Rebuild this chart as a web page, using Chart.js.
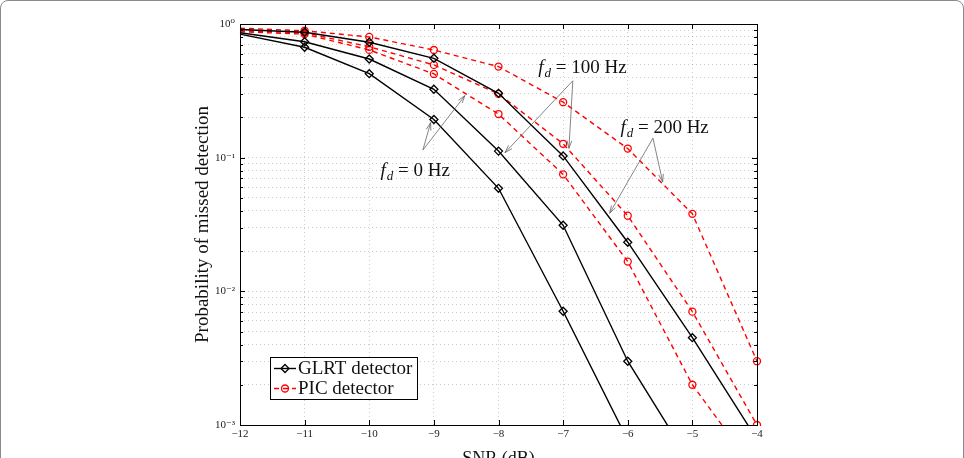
<!DOCTYPE html>
<html>
<head>
<meta charset="utf-8">
<script src="https://cdn.jsdelivr.net/npm/chart.js@4.4.1/dist/chart.umd.min.js"></script>
<style>
  html, body { margin: 0; padding: 0; background: #fff; overflow: hidden; }
  #wrap { position: relative; width: 964px; height: 458px; }
  #frame { position: absolute; left: 0; top: 0; width: 962px; height: 480px; border: 1px solid #8a8a8a; border-radius: 8px; pointer-events: none; }
  canvas { position: absolute; left: 0; top: 0; }
</style>
</head>
<body>
<div id="wrap">
  <canvas id="chart" width="964" height="470"></canvas>
  <div id="frame"></div>
</div>
<script>
// SNR values (dB)
const snr = [-12, -11, -10, -9, -8, -7, -6, -5, -4];

// probability of missed detection (null = off the plot)
const glrt0   = [0.84, 0.67, 0.425, 0.193, 0.059, 0.0071, 0.00077, null, null];
const glrt100 = [0.86, 0.737, 0.547, 0.325, 0.112, 0.0312, 0.0030, 0.0005, null];
const glrt200 = [0.91, 0.867, 0.73, 0.554, 0.303, 0.103, 0.0233, 0.0045, 0.00078];
const pic0    = [0.876, 0.84, 0.64, 0.423, 0.212, 0.075, 0.0167, 0.0020, 0.00044];
const pic100  = [0.89, 0.86, 0.676, 0.494, 0.30, 0.127, 0.0368, 0.00705, 0.001];
const pic200  = [0.93, 0.89, 0.80, 0.639, 0.48, 0.26, 0.117, 0.038, 0.003];

const xTicks = [-12, -11, -10, -9, -8, -7, -6, -5, -4];
const decades = [-3, -2, -1];

// labels and arrows: text position and arrow tips in data coordinates
const notes = [
  { value: '0',   at: [-9.29, 0.081], tail: [-9.17, 0.114], tips: [[-9.05, 0.183], [-8.52, 0.291]] },
  { value: '100', at: [-6.70, 0.479], tail: [-6.85, 0.376], tips: [[-7.90, 0.109], [-6.91, 0.1175]] },
  { value: '200', at: [-5.43, 0.169], tail: [-5.61, 0.140], tips: [[-5.46, 0.066], [-6.28, 0.0384]] }
];

const serif = '"Liberation Serif", "DejaVu Serif", serif';

const yTickValues = [];
decades.forEach(e => { for (let k = 1; k <= 9; k++) yTickValues.push(k * Math.pow(10, e)); });
yTickValues.push(1);

const sup = { '0': '\u2070', '1': '\u00b9', '2': '\u00b2', '3': '\u00b3', '-': '\u207b' };
function powLabel(v) {
  const e = Math.log10(v);
  if (Math.abs(e - Math.round(e)) > 1e-6) return '';
  return '10' + String(Math.round(e)).split('').map(c => sup[c]).join('');
}

function pts(arr) {
  return snr.map((x, i) => ({ x: x, y: arr[i] })).filter(p => p.y !== null);
}

// no marker on the first point (the curves enter from the left edge)
const markerSize = r => c => (c.dataIndex === 0 ? 0 : r);

function glrt(arr) {
  return {
    label: 'GLRT detector', data: pts(arr),
    borderColor: '#000', borderWidth: 1.4,
    pointStyle: 'rectRot', pointRadius: markerSize(4), pointBorderWidth: 1.3,
    pointBorderColor: '#000', pointBackgroundColor: 'rgba(0,0,0,0)',
    tension: 0, clip: { left: 6, right: 6, top: 6, bottom: 1 }
  };
}
function pic(arr) {
  return {
    label: 'PIC detector', data: pts(arr),
    borderColor: '#f00', borderWidth: 1.4, borderDash: [5, 4],
    pointStyle: 'circle', pointRadius: markerSize(3.5), pointBorderWidth: 1.3,
    pointBorderColor: '#f00', pointBackgroundColor: 'rgba(0,0,0,0)',
    tension: 0, clip: { left: 6, right: 6, top: 6, bottom: 1 }
  };
}

// box, inward tick marks
const framePlugin = {
  id: 'frame',
  afterDatasetsDraw(chart) {
    const { ctx, chartArea: a, scales } = chart;
    ctx.save();
    ctx.strokeStyle = '#000';
    ctx.lineWidth = 1;
    ctx.beginPath();
    xTicks.forEach(v => {
      const px = Math.round(scales.x.getPixelForValue(v)) + 0.5;
      ctx.moveTo(px, a.bottom); ctx.lineTo(px, a.bottom - 5);
      ctx.moveTo(px, a.top); ctx.lineTo(px, a.top + 5);
    });
    yTickValues.forEach(v => {
      const py = Math.round(scales.y.getPixelForValue(v)) + 0.5;
      const len = powLabel(v) ? 5 : 3;
      ctx.moveTo(a.left, py); ctx.lineTo(a.left + len, py);
      ctx.moveTo(a.right, py); ctx.lineTo(a.right - len, py);
    });
    ctx.stroke();
    ctx.strokeRect(Math.round(a.left) + 0.5, Math.round(a.top) + 0.5,
      Math.round(a.right - a.left), Math.round(a.bottom - a.top));
    ctx.restore();
  }
};

function drawFd(ctx, cx, cy, value) {
  const big = '19px ' + serif, ital = 'italic 19px ' + serif, sub = 'italic 13px ' + serif;
  const rest = ' = ' + value + ' Hz';
  ctx.font = ital; const wf = ctx.measureText('f').width + 1;
  ctx.font = sub; const wd = ctx.measureText('d').width;
  ctx.font = big; const wr = ctx.measureText(rest).width;
  let x = cx - (wf + wd + wr) / 2;
  const base = cy + 6;
  ctx.fillStyle = '#111';
  ctx.textAlign = 'left';
  ctx.textBaseline = 'alphabetic';
  ctx.font = ital; ctx.fillText('f', x, base); x += wf;
  ctx.font = sub; ctx.fillText('d', x, base + 4); x += wd;
  ctx.font = big; ctx.fillText(rest, x, base);
}

function arrow(ctx, x0, y0, x1, y1) {
  ctx.beginPath();
  ctx.moveTo(x0, y0); ctx.lineTo(x1, y1); ctx.stroke();
  const ang = Math.atan2(y1 - y0, x1 - x0), L = 8, w = 0.3;
  ctx.beginPath();
  ctx.moveTo(x1 - L * Math.cos(ang - w), y1 - L * Math.sin(ang - w));
  ctx.lineTo(x1, y1);
  ctx.lineTo(x1 - L * Math.cos(ang + w), y1 - L * Math.sin(ang + w));
  ctx.stroke();
}

const notesPlugin = {
  id: 'notes',
  afterDraw(chart) {
    const { ctx, scales: { x, y }, chartArea: a } = chart;
    const px = p => [x.getPixelForValue(p[0]), y.getPixelForValue(p[1])];
    ctx.save();
    ctx.strokeStyle = '#666';
    ctx.lineWidth = 0.8;
    notes.forEach(n => {
      const t = px(n.tail);
      n.tips.forEach(tp => { const e = px(tp); arrow(ctx, t[0], t[1], e[0], e[1]); });
      const c = px(n.at);
      drawFd(ctx, c[0], c[1], n.value);
    });

    // legend box, lower left of the axes
    const bx = a.left + 30, by = a.bottom - 68, bw = 147, bh = 42;
    ctx.fillStyle = '#fff';
    ctx.fillRect(bx, by, bw, bh);
    ctx.strokeStyle = '#000';
    ctx.lineWidth = 1;
    ctx.setLineDash([]);
    ctx.strokeRect(bx + 0.5, by + 0.5, bw, bh);
    const rows = chart.data.datasets.filter((d, i, all) => all.findIndex(o => o.label === d.label) === i);
    rows.forEach((d, i) => {
      const ly = by + 11.5 + i * 20;
      ctx.strokeStyle = d.borderColor;
      ctx.lineWidth = 1.4;
      ctx.setLineDash(d.borderDash || []);
      ctx.beginPath(); ctx.moveTo(bx + 4, ly); ctx.lineTo(bx + 26, ly); ctx.stroke();
      ctx.setLineDash([]);
      ctx.lineWidth = 1.3;
      ctx.beginPath();
      if (d.pointStyle === 'rectRot') {
        ctx.moveTo(bx + 15, ly - 4); ctx.lineTo(bx + 19, ly); ctx.lineTo(bx + 15, ly + 4); ctx.lineTo(bx + 11, ly); ctx.closePath();
      } else {
        ctx.arc(bx + 15, ly, 3.5, 0, Math.PI * 2);
      }
      ctx.stroke();
      ctx.fillStyle = '#111';
      ctx.font = '19px ' + serif;
      ctx.textAlign = 'left';
      ctx.textBaseline = 'middle';
      ctx.fillText(d.label, bx + 28, ly + 1);
    });
    ctx.restore();
  }
};

const gridStyle = { color: 'rgba(0,0,0,0.25)', lineWidth: 0.8, drawTicks: false };

new Chart(document.getElementById('chart'), {
  type: 'line',
  data: {
    datasets: [glrt(glrt0), glrt(glrt100), glrt(glrt200), pic(pic0), pic(pic100), pic(pic200)]
  },
  options: {
    responsive: false,
    animation: false,
    devicePixelRatio: 1,
    layout: { padding: { left: 190, right: 207, top: 24, bottom: 0 } },
    plugins: { legend: { display: false }, tooltip: { enabled: false } },
    scales: {
      x: {
        type: 'linear', min: -12, max: -4,
        afterBuildTicks: s => { s.ticks = xTicks.map(v => ({ value: v })); },
        afterFit: s => { s.height = 45; },
        grid: gridStyle,
        border: { display: false, dash: [1, 3] },
        ticks: {
          padding: 3, color: '#222', font: { family: serif, size: 11 },
          callback: v => String(v).replace('-', '\u2212')
        },
        title: { display: true, text: 'SNR (dB)', color: '#111', font: { family: serif, size: 18 }, padding: { top: 6, bottom: 0 } }
      },
      y: {
        type: 'logarithmic', min: 0.001, max: 1,
        afterBuildTicks: s => { s.ticks = yTickValues.map(v => ({ value: v, major: !!powLabel(v) })); },
        afterFit: s => { s.width = 50; },
        grid: gridStyle,
        border: { display: false, dash: [1, 3] },
        ticks: {
          autoSkip: false, padding: 5, color: '#222', font: { family: serif, size: 11 },
          callback: v => powLabel(v)
        },
        title: { display: true, text: 'Probability of missed detection', color: '#111', font: { family: serif, size: 19 }, padding: { top: 2, bottom: 0 } }
      }
    }
  },
  plugins: [framePlugin, notesPlugin]
});
</script>
</body>
</html>
